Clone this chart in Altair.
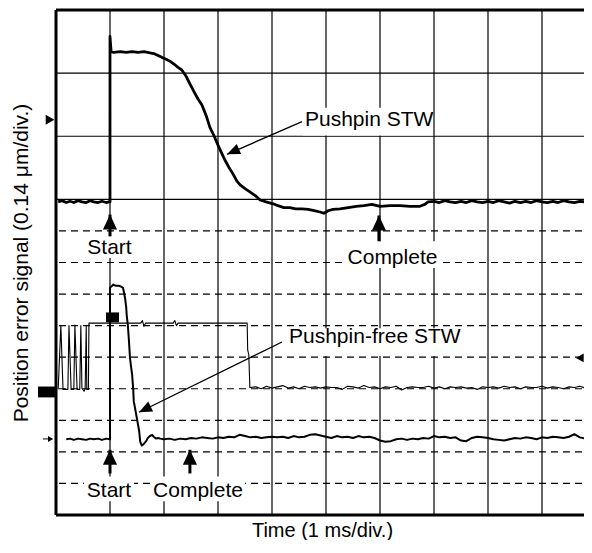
import math
import altair as alt
import pandas as pd

FONT = "Liberation Sans"
T_MAX = 9.963          # time span of the plot frame, ms (1 ms/div); right part is cut off
V_MAX = 8.0            # signal span, divisions (0.14 um/div)
W, H = 538, 505

# ---------------- traces (time in ms, signal in divisions) ----------------
A_T = [0.04, 0.11, 0.19, 0.26, 0.33, 0.41, 0.48, 0.56, 0.63, 0.70, 0.78, 0.85, 0.93, 0.98,
       1.00, 1.00, 1.02, 1.07, 1.19, 1.30, 1.41, 1.52, 1.63, 1.74, 1.81, 1.89, 1.96, 2.04,
       2.11, 2.19, 2.26, 2.33, 2.41, 2.48, 2.56, 2.63, 2.70, 2.78, 2.85, 2.93, 3.00, 3.07,
       3.13, 3.20, 3.28, 3.35, 3.41, 3.50, 3.59, 3.69, 3.78, 3.89, 4.02, 4.11, 4.22, 4.33,
       4.44, 4.56, 4.67, 4.78, 4.89, 4.96, 5.04, 5.13, 5.26, 5.41, 5.56, 5.70, 5.85, 6.00,
       6.19, 6.37, 6.56, 6.74, 6.83, 6.89,
       7.0, 7.1, 7.2, 7.3, 7.4, 7.5, 7.6, 7.7, 7.8, 7.9, 8.0, 8.1, 8.2, 8.3, 8.4, 8.5, 8.6,
       8.7, 8.8, 8.9, 9.0, 9.1, 9.2, 9.3, 9.4, 9.5, 9.6, 9.7, 9.8]
A_V = [4.96, 4.98, 4.95, 4.97, 4.95, 4.98, 4.96, 4.95, 4.98, 4.96, 4.95, 4.97, 4.95, 4.96,
       4.96, 7.58, 7.34, 7.33, 7.34, 7.33, 7.34, 7.33, 7.34, 7.32, 7.31, 7.28, 7.25, 7.22,
       7.19, 7.14, 7.09, 7.05, 6.95, 6.83, 6.70, 6.59, 6.50, 6.33, 6.14, 6.00, 5.86, 5.73,
       5.62, 5.51, 5.40, 5.29, 5.23, 5.17, 5.12, 5.06, 4.99, 4.96, 4.93, 4.90, 4.87, 4.87,
       4.85, 4.85, 4.84, 4.82, 4.80, 4.78, 4.82, 4.84, 4.85, 4.87, 4.89, 4.90, 4.92, 4.89,
       4.90, 4.90, 4.89, 4.89, 4.92, 4.96,
       4.97, 4.95, 4.98, 4.96, 4.95, 4.97, 4.95, 4.98, 4.96, 4.95, 4.97, 4.95, 4.98, 4.96,
       4.94, 4.97, 4.95, 4.97, 4.95, 4.98, 4.96, 4.95, 4.97, 4.95, 4.98, 4.96, 4.95, 4.97,
       4.96]

B_T = [0.19, 0.26, 0.33, 0.41, 0.48, 0.56, 0.63, 0.70, 0.78, 0.85, 0.93, 1.00, 1.00, 1.04,
       1.06, 1.11, 1.17, 1.20, 1.24, 1.26, 1.28, 1.30, 1.31, 1.33, 1.35, 1.37, 1.39, 1.41,
       1.43, 1.44, 1.46, 1.50, 1.54, 1.56, 1.59, 1.63, 1.67, 1.70, 1.74, 1.78, 1.81, 1.85,
       1.89, 1.93,
       2.0, 2.1, 2.2, 2.3, 2.4, 2.5, 2.6, 2.7, 2.8, 2.9, 3.0, 3.1, 3.2, 3.3, 3.4, 3.5, 3.6,
       3.7, 3.8, 3.9, 4.0, 4.1, 4.2, 4.3, 4.4, 4.5, 4.6, 4.7, 4.8, 4.9, 5.0, 5.1, 5.2, 5.3,
       5.4, 5.5, 5.6, 5.7, 5.8, 5.9, 6.0, 6.1, 6.2, 6.3, 6.4, 6.5, 6.6, 6.7, 6.8, 6.9, 7.0,
       7.1, 7.2, 7.3, 7.4, 7.5, 7.6, 7.7, 7.8, 7.9, 8.0, 8.1, 8.2, 8.3, 8.4, 8.5, 8.6, 8.7,
       8.8, 8.9, 9.0, 9.1, 9.2, 9.3, 9.4, 9.5, 9.6, 9.7, 9.8]
B_V = [1.20, 1.21, 1.19, 1.21, 1.20, 1.19, 1.21, 1.20, 1.21, 1.19, 1.21, 1.20, 3.60, 3.63,
       3.65, 3.63, 3.63, 3.62, 3.60, 3.52, 3.43, 3.29, 3.16, 3.01, 2.77, 2.49, 2.35, 2.22,
       1.99, 1.80, 1.71, 1.52, 1.33, 1.16, 1.10, 1.13, 1.17, 1.22, 1.25, 1.27, 1.24, 1.21,
       1.22, 1.21,
       1.20, 1.21, 1.19, 1.21, 1.20, 1.22, 1.21, 1.23, 1.22, 1.21, 1.23, 1.22, 1.24, 1.23,
       1.27, 1.25, 1.23, 1.24, 1.22, 1.23, 1.24, 1.23, 1.24, 1.22, 1.25, 1.23, 1.24, 1.27,
       1.28, 1.26, 1.24, 1.22, 1.25, 1.23, 1.24, 1.22, 1.25, 1.23, 1.24, 1.22, 1.18, 1.16,
       1.17, 1.20, 1.21, 1.19, 1.21, 1.20, 1.22, 1.21, 1.25, 1.23, 1.24, 1.22, 1.23, 1.18,
       1.17, 1.22, 1.24, 1.23, 1.22, 1.20, 1.19, 1.18, 1.20, 1.22, 1.21, 1.23, 1.22, 1.20,
       1.23, 1.22, 1.24, 1.23, 1.22, 1.24, 1.28, 1.23, 1.21]

C_T = [0.04, 0.09, 0.13, 0.22, 0.24, 0.28, 0.33, 0.35, 0.39, 0.44, 0.46, 0.48, 0.52, 0.54,
       0.56, 0.57, 0.60, 0.61, 1.57, 1.60, 1.63, 1.66, 2.17, 2.20, 2.23, 2.26, 3.54, 3.55,
       3.57, 3.59,
       3.7, 3.8, 3.9, 4.0, 4.1, 4.2, 4.3, 4.4, 4.5, 4.6, 4.7, 4.8, 4.9, 5.0, 5.1, 5.2, 5.3,
       5.4, 5.5, 5.6, 5.7, 5.8, 5.9, 6.0, 6.1, 6.2, 6.3, 6.4, 6.5, 6.6, 6.7, 6.8, 6.9, 7.0,
       7.1, 7.2, 7.3, 7.4, 7.5, 7.6, 7.7, 7.8, 7.9, 8.0, 8.1, 8.2, 8.3, 8.4, 8.5, 8.6, 8.7,
       8.8, 8.9, 9.0, 9.1, 9.2, 9.3, 9.4, 9.5, 9.6, 9.7, 9.8]
C_V = [1.99, 3.00, 1.99, 1.99, 3.00, 1.99, 1.99, 3.01, 1.99, 1.99, 3.00, 2.01, 1.96, 2.00,
       2.99, 1.99, 1.99, 3.04, 3.04, 3.08, 2.99, 3.04, 3.04, 3.08, 3.00, 3.04, 3.04, 2.61,
       2.54, 2.02,
       2.03, 2.00, 2.04, 2.01, 2.03, 2.05, 2.01, 2.03, 2.00, 2.04, 2.02, 2.03, 2.01, 2.03,
       2.02, 2.02, 1.99, 2.04, 2.03, 2.01, 2.05, 2.02, 2.03, 2.00, 2.03, 2.02, 2.04, 1.98,
       2.02, 2.03, 2.02, 2.02, 2.04, 2.01, 2.03, 2.00, 2.03, 2.02, 2.03, 2.01, 2.02, 1.99,
       2.03, 2.02, 2.03, 2.01, 2.04, 2.02, 2.03, 2.00, 2.03, 2.02, 2.02, 2.04, 2.01, 2.03,
       2.02, 2.00, 2.03, 2.02, 2.04, 2.01]

# ---------------- graticule ----------------
GRID_T = [1, 2, 3, 4, 5, 6, 7, 8, 9]
GRID_V_SOLID = [5, 6, 7]
GRID_V_DASH = [0.5, 1, 1.5, 2, 2.5, 3, 3.5, 4, 4.5]

# ---------------- annotations ----------------
LBL_LEFT_TEXT = ["Pushpin STW", "Pushpin-free STW"]
LBL_LEFT_T = [4.611, 4.315]
LBL_LEFT_V = [6.168, 2.724]
LBL_CTR_TEXT = ["Start", "Complete", "Start", "Complete"]
LBL_CTR_T = [0.991, 6.231, 0.981, 2.63]
LBL_CTR_V = [4.133, 3.977, 0.282, 0.282]

BOX_T1 = [4.57, 4.30, 0.54, 5.37, 0.519, 1.759]
BOX_T2 = [6.98, 7.57, 1.46, 7.09, 1.444, 3.50]
BOX_V1 = [6.01, 2.52, 4.07, 3.914, 0.219, 0.219]
BOX_V2 = [6.45, 2.96, 4.415, 4.337, 0.611, 0.611]

UP_T = [1.0, 5.98, 1.0, 2.48]
UP_TIP = [4.759, 4.744, 1.033, 1.033]
UP_END = [4.415, 4.337, 0.658, 0.658]

DIAG_T0 = [4.556, 4.185]
DIAG_V0 = [6.231, 2.740]
DIAG_T1 = [3.167, 1.537]
DIAG_V1 = [5.714, 1.628]

# channel markers
MARK_RECT_T1 = [-0.333, 0.926]
MARK_RECT_T2 = [-0.019, 1.167]
MARK_RECT_V1 = [1.863, 3.053]
MARK_RECT_V2 = [2.035, 3.209]
TRI_R_T, TRI_R_V = [-0.111], [6.26]
TRI_L_T, TRI_L_V = [9.70], [2.489]
SMALL_T0, SMALL_T1, SMALL_V = [-0.24], [-0.10], [1.205]

PX_T = W / T_MAX
PX_V = H / V_MAX


def head_angle(t0, v0, t1, v1):
    dx = (t1 - t0) * PX_T
    dy = -(v1 - v0) * PX_V
    return math.degrees(math.atan2(dx, -dy)) % 360


HEAD = "M0,0L0.47,1L-0.47,1Z"

xs = alt.Scale(domain=[0, T_MAX], nice=False, zero=False)
ys = alt.Scale(domain=[0, V_MAX], nice=False, zero=False)
xax = alt.Axis(title="Time (1 ms/div.)", labels=False, ticks=False, domain=False,
               grid=False, titlePadding=5, titleFontSize=20, titleX=266)
yax = alt.Axis(title="Position error signal (0.14 μm/div.)", labels=False, ticks=False,
               domain=False, grid=False, titlePadding=25, titleFontSize=21)


def X(f):
    return alt.X(f, type="quantitative", scale=xs, axis=xax)


def Y(f):
    return alt.Y(f, type="quantitative", scale=ys, axis=yax)


grid_v = alt.Chart(pd.DataFrame({"t": GRID_T})).mark_rule(
    color="black", strokeWidth=1.2).encode(x=X("t"))
grid_s = alt.Chart(pd.DataFrame({"v": GRID_V_SOLID})).mark_rule(
    color="black", strokeWidth=1.2).encode(y=Y("v"))
grid_d = alt.Chart(pd.DataFrame({"v": GRID_V_DASH})).mark_rule(
    color="black", strokeWidth=1.2, strokeDash=[7, 5]).encode(y=Y("v"))
frame_l = alt.Chart(pd.DataFrame({"t": [0]})).mark_rule(
    color="black", strokeWidth=3).encode(x=X("t"))
frame_tb = alt.Chart(pd.DataFrame({"v": [0, V_MAX]})).mark_rule(
    color="black", strokeWidth=3).encode(y=Y("v"))

boxes = alt.Chart(pd.DataFrame({"t1": BOX_T1, "t2": BOX_T2, "v1": BOX_V1, "v2": BOX_V2})
                  ).mark_rect(fill="white", strokeWidth=0).encode(
    x=X("t1"), x2="t2", y=Y("v1"), y2="v2")


def trace(ts, vs, sw):
    df = pd.DataFrame({"t": ts, "v": vs, "i": list(range(len(ts)))})
    return alt.Chart(df).mark_line(color="black", strokeWidth=sw, strokeJoin="round").encode(
        x=X("t"), y=Y("v"), order="i:Q")


tr_a = trace(A_T, A_V, 2.8)
tr_b = trace(B_T, B_V, 2.0)
tr_c = trace(C_T, C_V, 1.1)

txt_l = alt.Chart(pd.DataFrame({"t": LBL_LEFT_T, "v": LBL_LEFT_V, "s": LBL_LEFT_TEXT})
                  ).mark_text(align="left", baseline="alphabetic", font=FONT, fontSize=21,
                              color="black").encode(x=X("t"), y=Y("v"), text="s:N")
txt_c = alt.Chart(pd.DataFrame({"t": LBL_CTR_T, "v": LBL_CTR_V, "s": LBL_CTR_TEXT})
                  ).mark_text(align="center", baseline="alphabetic", font=FONT, fontSize=21,
                              color="black").encode(x=X("t"), y=Y("v"), text="s:N")

up_df = pd.DataFrame({"t": UP_T, "tip": UP_TIP, "end": UP_END})
up_stem = alt.Chart(up_df).mark_rule(color="black", strokeWidth=3).encode(
    x=X("t"), y=Y("tip"), y2="end")
up_head = alt.Chart(up_df).mark_point(shape=HEAD, filled=True, size=900, color="black",
                                      opacity=1, strokeWidth=0).encode(x=X("t"), y=Y("tip"))

diag_df = pd.DataFrame({"t0": DIAG_T0, "v0": DIAG_V0, "t1": DIAG_T1, "v1": DIAG_V1})
diag_df["ang"] = [head_angle(a, b, c, d) for a, b, c, d in
                  zip(DIAG_T0, DIAG_V0, DIAG_T1, DIAG_V1)]
diag_line = alt.Chart(diag_df).mark_rule(color="black", strokeWidth=1.3).encode(
    x=X("t0"), y=Y("v0"), x2="t1", y2="v1")
diag_head = alt.Chart(diag_df).mark_point(shape="M0,0L0.42,1L-0.42,1Z", filled=True,
                                          size=676, color="black", opacity=1,
                                          strokeWidth=0).encode(
    x=X("t1"), y=Y("v1"), angle=alt.Angle("ang:Q", scale=None))

rects = alt.Chart(pd.DataFrame({"t1": MARK_RECT_T1, "t2": MARK_RECT_T2,
                                "v1": MARK_RECT_V1, "v2": MARK_RECT_V2})).mark_rect(
    color="black").encode(x=X("t1"), x2="t2", y=Y("v1"), y2="v2")
tri_r = alt.Chart(pd.DataFrame({"t": TRI_R_T, "v": TRI_R_V})).mark_point(
    shape="triangle-right", filled=True, size=100, color="black", opacity=1).encode(
    x=X("t"), y=Y("v"))
tri_l = alt.Chart(pd.DataFrame({"t": TRI_L_T, "v": TRI_L_V})).mark_point(
    shape="triangle-left", filled=True, size=80, color="black", opacity=1).encode(
    x=X("t"), y=Y("v"))
small_line = alt.Chart(pd.DataFrame({"t0": SMALL_T0, "t1": SMALL_T1, "v": SMALL_V})).mark_rule(
    color="black", strokeWidth=1).encode(x=X("t0"), x2="t1", y=Y("v"))
small_head = alt.Chart(pd.DataFrame({"t": SMALL_T1, "v": SMALL_V})).mark_point(
    shape="triangle-right", filled=True, size=36, color="black", opacity=1).encode(
    x=X("t"), y=Y("v"))

chart = alt.layer(
    grid_v, grid_s, grid_d, boxes, frame_l, frame_tb,
    tr_c, tr_b, tr_a,
    txt_l, txt_c, up_stem, up_head, diag_line, diag_head,
    rects, tri_r, tri_l, small_line, small_head,
).properties(
    width=W, height=H,
    autosize=alt.AutoSizeParams(type="none"),
    padding={"left": 48, "top": 2, "right": -10, "bottom": 25},
    background="white",
    view=alt.ViewBackground(stroke="transparent", strokeWidth=0),
).configure_view(stroke="transparent", strokeWidth=0).configure_axis(
    titleFont=FONT, titleFontWeight="normal", titleColor="black"
)

chart.save("out.html", embed_options={"renderer": "svg", "actions": False})
